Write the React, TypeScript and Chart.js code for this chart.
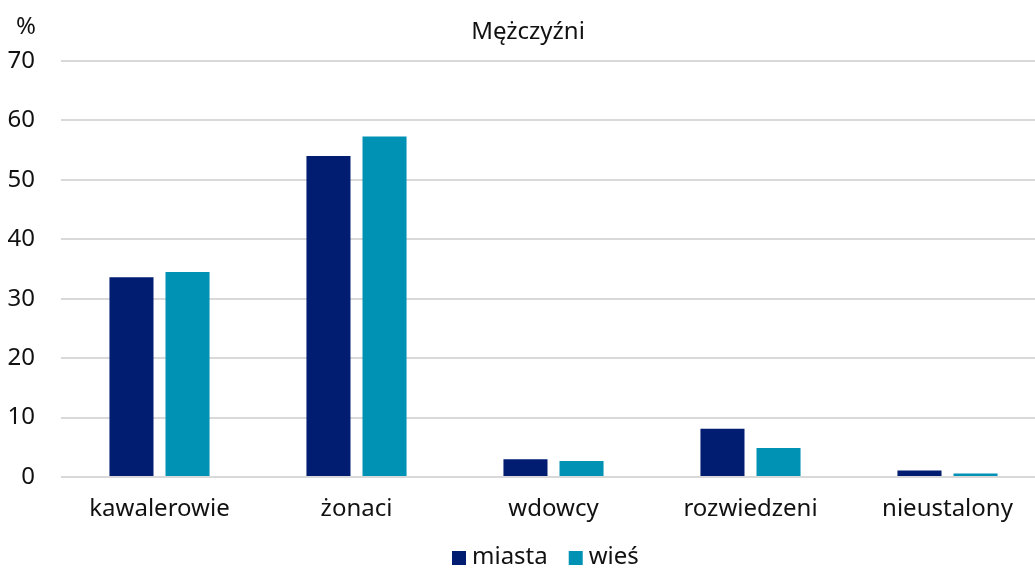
import React, { useEffect, useRef } from "react";
import { Chart, registerables } from "chart.js";

Chart.register(...registerables);

const categories = ["kawalerowie", "żonaci", "wdowcy", "rozwiedzeni", "nieustalony"];
const miasta = [33.6, 54.0, 3.0, 8.1, 1.1];
const wies = [34.5, 57.3, 2.7, 4.9, 0.6];
const seriesNames = ["miasta", "wieś"];
const seriesColors = ["#001d72", "#0092b4"];
const titleText = "Mężczyźni";
const unitText = "%";

const FONT = "'Noto Sans', 'Open Sans', sans-serif";
const TEXT = "#111111";

export default function App() {
  const ref = useRef<HTMLCanvasElement | null>(null);
  useEffect(() => {
    if (!ref.current) return;
    const textPlugin = {
      id: "texts",
      afterDraw(chart: any) {
        const ctx = chart.ctx;
        ctx.save();
        ctx.fillStyle = TEXT;
        ctx.font = `24px ${FONT}`;
        ctx.textAlign = "center";
        ctx.textBaseline = "middle";
        ctx.fillText(titleText, 528, 32);
        ctx.fillText(unitText, 26, 27);
        // legend
        ctx.textAlign = "left";
        const boxY = 551;
        let x = 452;
        seriesNames.forEach((name, i) => {
          ctx.fillStyle = seriesColors[i];
          ctx.fillRect(x, boxY, 14, 14);
          ctx.fillStyle = TEXT;
          ctx.fillText(name, x + 20, 557);
          x += 20 + ctx.measureText(name).width + 21;
        });
        ctx.restore();
      },
    };
    const chart = new Chart(ref.current, {
      type: "bar",
      data: {
        labels: categories,
        datasets: [
          { label: seriesNames[0], data: miasta, backgroundColor: seriesColors[0], borderWidth: 0 },
          { label: seriesNames[1], data: wies, backgroundColor: seriesColors[1], borderWidth: 0 },
        ],
      },
      options: {
        responsive: false,
        animation: false,
        layout: { padding: { top: 61, left: 0, right: 0, bottom: 0 } },
        datasets: { bar: { categoryPercentage: 0.569, barPercentage: 0.786 } } as any,
        scales: {
          x: {
            afterFit: (s: any) => { s.height = 91; },
            grid: { display: false },
            border: { display: false },
            ticks: { color: TEXT, font: { family: FONT, size: 24 }, padding: 10 },
          },
          y: {
            min: 0,
            max: 70,
            afterFit: (s: any) => { s.width = 61; },
            border: { display: false },
            grid: { color: "#d9d9d9", lineWidth: 2, drawTicks: false },
            ticks: { stepSize: 10, color: TEXT, font: { family: FONT, size: 24 }, padding: 26 },
          },
        },
        plugins: {
          legend: { display: false },
          title: { display: false },
          tooltip: { enabled: false },
        },
      },
      plugins: [textPlugin],
    });
    return () => chart.destroy();
  }, []);
  return (
    <div style={{ position: "absolute", left: 0, top: 0, width: 1035, height: 568, overflow: "hidden", background: "#fff" }}>
      <canvas ref={ref} width={1046} height={568} style={{ display: "block" }} />
    </div>
  );
}
